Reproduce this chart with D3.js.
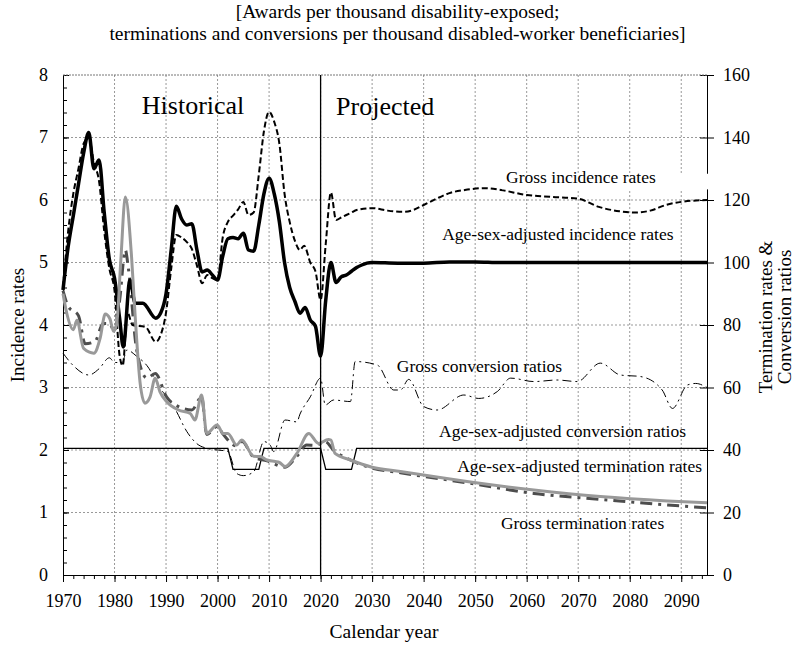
<!DOCTYPE html>
<html>
<head>
<meta charset="utf-8">
<script src="https://cdn.jsdelivr.net/npm/d3@7"></script>
<style>
  body { margin: 0; background: #fff; }
  svg { display: block; font-family: "Liberation Serif", "Times New Roman", serif; }
</style>
</head>
<body>
<script>
// values: [calendar year, value]
// incidence rates, left axis (per thousand exposed)
const asaIncidence = [
  [1970,4.56],[1971,5.25],[1972,5.75],[1973,6.25],[1974,6.75],[1975,7.08],[1976,6.5],[1977,6.64],
  [1978,5.8],[1979,5.05],[1980,4.75],[1981,4.1],[1981.7,3.65],[1983,4.72],[1984,4.35],[1985.5,4.35],
  [1988,4.11],[1989,4.2],[1990,4.5],[1991,5.2],[1992,5.9],[1993,5.7],[1994,5.6],[1995,5.62],[1996,5.2],
  [1997,4.85],[1998,4.88],[1999,4.8],[2000,4.72],[2001,5.1],[2002,5.38],[2003,5.4],[2004,5.38],
  [2005,5.47],[2006,5.2],[2007,5.18],[2008,5.6],[2009,6.1],[2010,6.35],[2011,6.1],[2012,5.65],
  [2013,5.0],[2014,4.6],[2015,4.38],[2016,4.19],[2017,4.28],[2018,4.08],[2019,3.98],[2020,3.5],
  [2021,4.4],[2022,5.0],[2023,4.68],[2024,4.77],[2025,4.8],[2026,4.86],[2027,4.92],[2028,4.96],
  [2029,4.99],[2030,5.0],[2035,4.99],[2040,4.99],[2045,5.01],[2050,5.01],[2055,5.0],[2095,5.0]
];
const grossIncidence = [
  [1970,4.6],[1971,5.5],[1972,6.1],[1973,6.5],[1974,6.9],[1975,7.0],[1976,6.6],[1977,6.3],[1978,5.5],
  [1979,4.9],[1980,4.55],[1981,3.5],[1981.6,3.35],[1982.5,4.2],[1983.5,4.0],[1986,3.97],[1988,3.73],
  [1989,3.85],[1990,4.2],[1991,4.9],[1992,5.44],[1993,5.4],[1994,5.33],[1995,5.22],[1996,4.95],
  [1997,4.67],[1998,4.8],[1999,4.75],[2000,4.72],[2001,5.4],[2002,5.65],[2003,5.75],[2004,5.85],
  [2005,5.97],[2006,5.76],[2007,5.8],[2008,6.4],[2009,7.1],[2010,7.41],[2011,7.25],[2012,6.9],
  [2013,6.1],[2014,5.65],[2015,5.35],[2016,5.2],[2016.8,5.27],[2018,5.0],[2019,4.86],[2020,4.4],
  [2021,5.3],[2022,6.12],[2023,5.68],[2024,5.72],[2025,5.76],[2026,5.8],[2027,5.84],[2030,5.87],
  [2033,5.83],[2036,5.81],[2038,5.84],[2040,5.92],[2043,6.04],[2045,6.11],[2048,6.16],[2052,6.19],
  [2055,6.16],[2060,6.08],[2065,6.05],[2070,6.02],[2074,5.89],[2078,5.82],[2081,5.8],[2084,5.83],
  [2087,5.92],[2090,5.97],[2095,6.0]
];
// termination rates and conversion ratios, right axis (per thousand beneficiaries)
const grossConversion = [
  [1970,71],[1972,67],[1975,64],[1977,66],[1979,69.5],[1980,68],[1981.5,68],[1982.4,72],[1984.3,70],
  [1986.3,67],[1988.8,60],[1991.8,53],[1994,46],[1996,42],[1998,40.5],[2002,39.5],[2003.7,32.5],
  [2005,31.8],[2007,33],[2009,42.7],[2010.2,41.6],[2010.9,39.5],[2013.1,49.6],[2015.4,49],[2016,51.5],
  [2018,57],[2020,63],[2020.9,54.4],[2022.5,56],[2025.8,55.5],[2026.7,68.3],[2031,67.2],[2034.2,59.2],
  [2035.5,59.2],[2037.1,62.6],[2040,53.9],[2042.6,52.8],[2047.8,57.6],[2050.7,56.5],[2054.3,58.7],
  [2056.9,63],[2061.4,61.9],[2065.9,62.4],[2069.8,61.9],[2074.3,67.8],[2078.2,64],[2082.1,63.5],
  [2086.3,59.2],[2088.3,53.3],[2091.2,60.8],[2092.8,61.3],[2095,60]
];
const asaConversion = [
  [1970,40.5],[2002,40.5],[2003,33.8],[2008,33.8],[2009,40.5],[2020,40.5],
  [2021,33.8],[2026,33.8],[2027,40.5],[2095,40.5]
];
const asaTermination = [
  [1970,90],[1970.7,84],[1972,78.5],[1972.7,81.5],[1974,72.5],[1976,71],[1977.2,75.7],[1978.2,83.5],
  [1979.1,82],[1979.8,78],[1980.4,80],[1981.2,100],[1982.1,121],[1983.3,102],[1984,83],[1985,61],
  [1985.9,55],[1986.9,57],[1987.9,63],[1988.8,58.7],[1990.1,55.5],[1992.4,52.8],[1994.7,51.7],
  [1995.6,49.6],[1996.9,57.6],[1997.9,45.3],[1999.9,48],[2001.1,45.3],[2002,45.3],[2003.7,41.6],
  [2004.7,43.2],[2007,38],[2008.3,37.9],[2009.6,36.8],[2011.2,36.3],[2012,36],[2013.1,34.7],
  [2015.4,38.9],[2017.7,45.3],[2019.6,42.1],[2021.5,43.4],[2022,43.2],[2022.8,38.9],[2025.8,36.8],
  [2030,34.5],[2035.5,33.1],[2041.9,31.5],[2048.4,29.9],[2061.4,27.2],[2074.3,25.1],[2087.3,23.7],
  [2095,23.1]
];
const grossTermination = [
  [1970,91],[1971,86],[1973,83],[1974.3,74],[1976.2,74.7],[1977.8,80.5],[1979,80.5],[1980,78],
  [1981,88],[1982.1,104],[1982.7,98],[1984.3,72],[1986.3,63],[1987.9,64.5],[1990.1,57],[1992.4,53.9],
  [1995,52.8],[1996.9,57],[1997.9,45],[1999.9,47.5],[2001.1,45],[2003.7,41.3],[2004.7,42.8],
  [2007,37.7],[2009.6,36.5],[2013.1,34.5],[2015.4,38],[2017.3,41.6],[2019,41.5],[2020.9,42.7],
  [2022.5,40],[2025.8,36.8],[2030,34.2],[2035.5,32.7],[2048.4,29.5],[2061.4,26.1],[2074.3,24.2],
  [2087.3,22.4],[2095,21.5]
];

const xTicks = d3.range(1970, 2091, 10);
const yLeftTicks = d3.range(0, 9, 1);
const yRightTicks = d3.range(0, 161, 20);

const W = 795, H = 647;
const plotLeft = 63, plotRight = 707, plotTop = 75, plotBottom = 575;

const svg = d3.select("body").append("svg")
    .attr("width", W)
    .attr("height", H);

const x = d3.scaleLinear().domain([1970, 2095]).range([plotLeft, plotRight]);
const yL = d3.scaleLinear().domain([0, 8]).range([plotBottom, plotTop]);
const yR = d3.scaleLinear().domain([0, 160]).range([plotBottom, plotTop]);

// subtitle
svg.append("text").attr("x", W / 2).attr("y", 18).attr("text-anchor", "middle")
    .attr("font-size", 19.5).text("[Awards per thousand disability-exposed;");
svg.append("text").attr("x", W / 2).attr("y", 40).attr("text-anchor", "middle")
    .attr("font-size", 19.5).text("terminations and conversions per thousand disabled-worker beneficiaries]");

// grid
const grid = svg.append("g").attr("stroke", "#999").attr("stroke-width", 1).attr("stroke-dasharray", "2,2");
grid.selectAll("line.v").data(xTicks.filter(d => d > 1970)).enter().append("line")
    .attr("x1", d => x(d)).attr("x2", d => x(d)).attr("y1", plotTop).attr("y2", plotBottom);
grid.selectAll("line.h").data(yLeftTicks.filter(d => d > 0 && d < 8)).enter().append("line")
    .attr("x1", plotLeft).attr("x2", plotRight).attr("y1", d => yL(d)).attr("y2", d => yL(d));

// axes
svg.append("g").attr("transform", `translate(0,${plotBottom})`)
    .call(d3.axisBottom(x).tickValues(xTicks).tickFormat(d3.format("d")).tickSizeInner(7).tickSizeOuter(0).tickPadding(12));
svg.append("g").attr("transform", `translate(0,${plotBottom})`)
    .call(d3.axisBottom(x).tickValues(d3.range(1970, 2095, 2)).tickFormat("").tickSize(4))
    .call(g => g.select(".domain").remove());

svg.append("g").attr("transform", `translate(${plotLeft},0)`)
    .call(d3.axisRight(yL).tickValues(yLeftTicks).tickSize(6).tickSizeOuter(0).tickFormat(""));
svg.append("g").attr("transform", `translate(${plotLeft},0)`)
    .call(d3.axisRight(yL).tickValues(d3.range(0, 8.01, 0.2)).tickSize(4).tickFormat(""))
    .call(g => g.select(".domain").remove());
svg.append("g").selectAll("text").data(yLeftTicks).enter().append("text")
    .attr("x", plotLeft - 15).attr("y", d => yL(d)).attr("dy", "0.33em")
    .attr("text-anchor", "end").attr("font-size", 18).text(d => d);

const yAxisR = svg.append("g").attr("transform", `translate(${plotRight},0)`)
    .call(d3.axisRight(yR).tickValues(yRightTicks).tickSize(7).tickSizeOuter(0).tickPadding(9));
yAxisR.selectAll(".tick line").attr("x1", -7);

svg.selectAll(".tick text").attr("font-size", 18).attr("font-family", "Liberation Serif, Times New Roman, serif").attr("fill", "#000");
svg.selectAll(".domain, .tick line").attr("stroke", "#000");

// series
const lineL = d3.line().x(d => x(d[0])).y(d => yL(d[1])).curve(d3.curveMonotoneX);
const lineR = d3.line().x(d => x(d[0])).y(d => yR(d[1])).curve(d3.curveMonotoneX);
const lineStep = d3.line().x(d => x(d[0])).y(d => yR(d[1]));

svg.append("path").datum(grossConversion).attr("d", lineR)
    .attr("fill", "none").attr("stroke", "#000").attr("stroke-width", 1)
    .attr("stroke-dasharray", "9,4,2,4");
svg.append("path").datum(asaConversion).attr("d", lineStep)
    .attr("fill", "none").attr("stroke", "#000").attr("stroke-width", 1.3);
svg.append("path").datum(grossTermination).attr("d", lineR)
    .attr("fill", "none").attr("stroke", "#4d4d4d").attr("stroke-width", 3)
    .attr("stroke-dasharray", "12,6,3,6");
svg.append("path").datum(grossIncidence).attr("d", lineL)
    .attr("fill", "none").attr("stroke", "#000").attr("stroke-width", 2)
    .attr("stroke-dasharray", "6,3");
svg.append("path").datum(asaIncidence).attr("d", lineL)
    .attr("fill", "none").attr("stroke", "#000").attr("stroke-width", 3.5)
    .attr("stroke-linejoin", "round");
svg.append("path").datum(asaTermination).attr("d", lineR)
    .attr("fill", "none").attr("stroke", "#999").attr("stroke-width", 3)
    .attr("stroke-linejoin", "round");

// historical / projected divider and top border
svg.append("line").attr("x1", x(2020)).attr("x2", x(2020)).attr("y1", plotTop).attr("y2", plotBottom)
    .attr("stroke", "#000").attr("stroke-width", 1.3);
svg.append("line").attr("x1", plotLeft).attr("x2", plotRight).attr("y1", plotTop).attr("y2", plotTop)
    .attr("stroke", "#777").attr("stroke-dasharray", "2,1");

svg.append("text").attr("x", x(1985.3)).attr("y", yL(7.38)).attr("font-size", 26).text("Historical");
svg.append("text").attr("x", x(2023)).attr("y", yL(7.36)).attr("font-size", 26).text("Projected");

// series labels
svg.append("rect").attr("x", x(2055.2)).attr("y", yL(6.42)).attr("width", plotRight + 6 - x(2055.2))
    .attr("height", yL(6.17) - yL(6.42)).attr("fill", "#fff");
const labels = [
  ["Gross incidence rates", 2056.0, 6.27],
  ["Age-sex-adjusted incidence rates", 2043.6, 5.36],
  ["Gross conversion ratios", 2034.8, 3.25],
  ["Age-sex-adjusted conversion ratios", 2043.0, 2.21],
  ["Age-sex-adjusted termination rates", 2046.5, 1.65],
  ["Gross termination rates", 2055.0, 0.74]
];
svg.append("g").selectAll("text").data(labels).enter().append("text")
    .attr("x", d => x(d[1])).attr("y", d => yL(d[2])).attr("font-size", 17.5).text(d => d[0]);

// axis titles
svg.append("text").attr("x", (plotLeft + plotRight) / 2 - 1).attr("y", 638).attr("text-anchor", "middle")
    .attr("font-size", 19.5).text("Calendar year");
svg.append("text").attr("transform", `translate(24,${(plotTop + plotBottom) / 2}) rotate(-90)`)
    .attr("text-anchor", "middle").attr("font-size", 19).text("Incidence rates");
svg.append("text").attr("transform", `translate(772,${(plotTop + plotBottom) / 2 - 8}) rotate(-90)`)
    .attr("text-anchor", "middle").attr("font-size", 19).text("Termination rates &");
svg.append("text").attr("transform", `translate(791,${(plotTop + plotBottom) / 2 - 8}) rotate(-90)`)
    .attr("text-anchor", "middle").attr("font-size", 19).text("Conversion ratios");
</script>
</body>
</html>
